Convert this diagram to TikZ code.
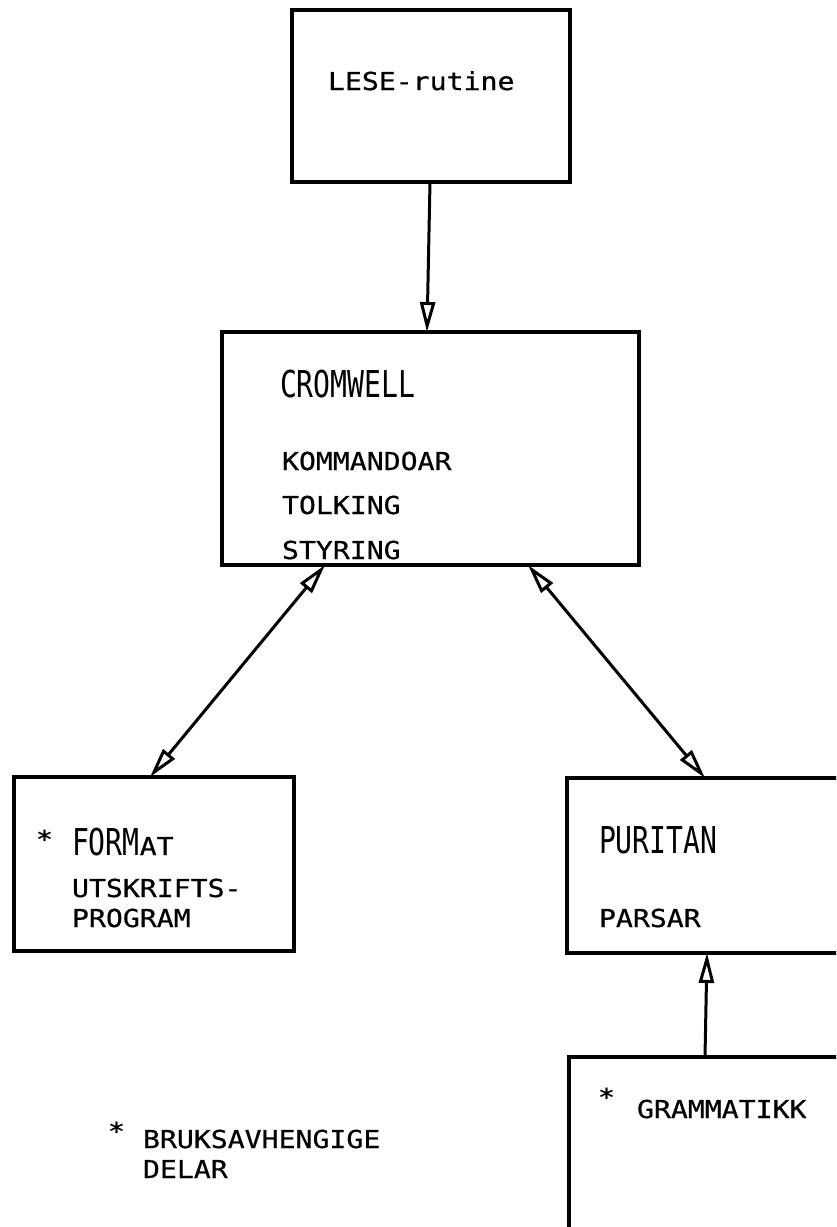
\documentclass[tikz,border=0pt]{standalone}
\usepackage{fontspec}
\usetikzlibrary{arrows.meta}
\newfontfamily\smallfam[FakeStretch=1.14, FakeBold=0.6]{DejaVu Sans Mono}
\newfontfamily\bigfam[FakeStretch=0.76]{DejaVu Sans Mono}
\newcommand{\smallf}{\fontsize{24.7}{30}\smallfam}
\newcommand{\bigf}{\fontsize{37}{44}\bigfam}
\tikzset{
  boxst/.style={draw, line width=3.4pt, anchor=north west, inner sep=0pt, outer sep=0pt},
  txt/.style={anchor=base west, inner sep=0pt, outer sep=0pt, font=\smallf},
  ttl/.style={anchor=base west, inner sep=0pt, outer sep=0pt, font=\bigf},
  Otip/.tip={Triangle[open, length=30pt, width=15pt, line width=3pt]},
  conn/.style={line width=3pt}
}
\begin{document}
\begin{tikzpicture}[x=1pt, y=-1pt]
\useasboundingbox (0,0) rectangle (836,1227);
\clip (0,0) rectangle (836,1227);
% boxes
\node[boxst, minimum width=278, minimum height=172] (lese) at (292,10) {};
\node[boxst, minimum width=417, minimum height=233] (crom) at (222,332) {};
\node[boxst, minimum width=280, minimum height=174] (fmtbox) at (14,777) {};
\node[boxst, minimum width=320, minimum height=175] (purbox) at (567,778) {};
\node[boxst, minimum width=320, minimum height=220] (grambox) at (569,1057) {};
% texts
\node[txt] (lesetxt) at (328,90) {LESE-rutine};
\node[ttl] (cromtxt) at (280,397) {CROMWELL};
\node[txt] (komm) at (282,470) {KOMMANDOAR};
\node[txt] (tolk) at (282,514) {TOLKING};
\node[txt] (styr) at (282,559) {STYRING};
\node[txt] (star1) at (36,848) {*};
\node[ttl] (fmttxt) at (72,855) {FORM{\smallf AT}};
\node[txt] (utsk) at (72,897) {UTSKRIFTS-};
\node[txt] (prog) at (72,927) {PROGRAM};
\node[ttl] (purtxt) at (599,853) {PURITAN};
\node[txt] (pars) at (599,927) {PARSAR};
\node[txt] (star2) at (598,1106) {*};
\node[txt] (gramtxt) at (637,1118) {GRAMMATIKK};
\node[txt] (star3) at (108,1140) {*};
\node[txt] (bruk) at (143,1148) {BRUKSAVHENGIGE};
\node[txt] (delar) at (143,1178) {DELAR};
% connectors
\draw[conn, -Otip] ([xshift=138]lese.south west) -- ([xshift=205]crom.north west);
\draw[conn, Otip-Otip] ([xshift=103]crom.south west) -- ([xshift=136]fmtbox.north west);
\draw[conn, Otip-Otip] ([xshift=306]crom.south west) -- ([xshift=138]purbox.north west);
\draw[conn, -Otip] ([xshift=136]grambox.north west) -- ([xshift=140]purbox.south west);
\end{tikzpicture}
\end{document}
